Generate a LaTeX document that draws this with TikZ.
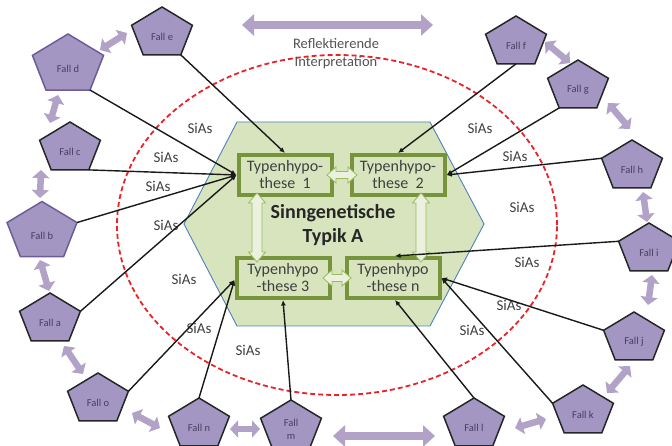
\documentclass[tikz,border=0pt]{standalone}
\usepackage{fontspec}
\setmainfont{Carlito}
\usetikzlibrary{arrows.meta,calc}
\definecolor{pentfill}{HTML}{A396C2}
\definecolor{pentline}{HTML}{262626}
\definecolor{pentpurple}{HTML}{6E5C98}
\definecolor{penttext}{HTML}{4A3D63}
\definecolor{lilac}{HTML}{B3A2C7}
\definecolor{hexfill}{HTML}{D7E4BD}
\definecolor{hexline}{HTML}{4F81BD}
\definecolor{boxline}{HTML}{77933C}
\definecolor{boxfill}{HTML}{D7E4BD}
\definecolor{garrfill}{HTML}{EBF1DE}
\definecolor{garrline}{HTML}{9BBB59}
\definecolor{redline}{HTML}{E8232A}
\definecolor{graytext}{HTML}{404040}
\tikzset{
  pentshape/.style={fill=pentfill, line width=1.5pt, line join=miter},
  falltext/.style={text=penttext, font=\fontsize{10.5}{13}\selectfont, align=center, inner sep=0pt},
  pics/fall/.style n args={3}{code={
    \draw[pentshape, draw=#3] (0,{-26.5*#2}) coordinate (-t)
      -- ({30.4*#2},{-8.2*#2}) coordinate (-r)
      -- ({18.8*#2},{21.4*#2}) coordinate (-br)
      -- ({-18.8*#2},{21.4*#2}) coordinate (-bl)
      -- ({-30.4*#2},{-8.2*#2}) coordinate (-l) -- cycle;
    \coordinate (-b) at (0,{21.4*#2});
    \node[falltext] (-c) at (0,{3*#2}) {#1};
  }},
  hexstyle/.style={draw=hexline, line width=0.9pt, fill=hexfill},
  hypbox/.style={draw=boxline, line width=4pt, fill=boxfill, minimum width=93pt,
    minimum height=40pt, inner sep=0pt, outer sep=2pt, align=center,
    font=\fontsize{16}{17}\selectfont, text=graytext},
  garrow/.style={draw=garrline, line width=0.8pt, fill=garrfill, line join=miter},
  lilacarr/.style={draw=lilac, line width=6.5pt,
    arrows={Triangle[length=8pt,width=17pt]-Triangle[length=8pt,width=17pt]}},
  biglilac/.style={draw=lilac, line width=8.5pt,
    arrows={Triangle[length=12pt,width=21pt]-Triangle[length=12pt,width=21pt]}},
  sias/.style={text=graytext, font=\fontsize{15}{17}\selectfont, inner sep=0pt},
  reflabel/.style={text=graytext!90, font=\fontsize{14.5}{18}\selectfont, align=center, inner sep=0pt},
  titlelabel/.style={text=black!85, font=\fontsize{20}{24}\selectfont\bfseries, align=center, inner sep=0pt},
  conn/.style={draw=black!90, line width=1.4pt, arrows={-Latex[length=5.5pt,width=5pt]}},
  redell/.style={draw=redline, line width=1.8pt, dash pattern=on 5pt off 3pt}
}
\begin{document}
\begin{tikzpicture}[x=1pt,y=-1pt]
\useasboundingbox (0,0) rectangle (672,446);
% central hexagon
\draw[hexstyle] (237,122) -- (430,122) -- (484,224) -- (430,326) -- (237,326) -- (184,224) -- cycle;
% red dashed ellipse
\draw[redell] (337,225) ellipse [x radius=220pt, y radius=170pt];
% labels
\node[reflabel] (refl) at (336,54) {Reflektierende\\Interpretation};
% hypothesis boxes
\node[hypbox] (b1) at (285,175) {Typenhypo-\\these~~1};
\node[hypbox] (b2) at (398,175) {Typenhypo-\\these~~2};
\node[hypbox] (b3) at (283,278) {Typenhypo\\-these 3};
\node[hypbox] (bn) at (393,278) {Typenhypo\\-these n};
% green double arrows
\draw[garrow] (327,175) -- (336,167) -- (336,171.5) -- (348,171.5) -- (348,167) -- (357,175)
  -- (348,183) -- (348,178.5) -- (336,178.5) -- (336,183) -- cycle;
\draw[garrow] (323,278) -- (332,270) -- (332,274.5) -- (342,274.5) -- (342,270) -- (351,278)
  -- (342,286) -- (342,281.5) -- (332,281.5) -- (332,286) -- cycle;
\draw[garrow] (257,193) -- (265.5,203) -- (262,203) -- (262,252) -- (265.5,252) -- (257,262)
  -- (248.5,252) -- (252,252) -- (252,203) -- (248.5,203) -- cycle;
\draw[garrow] (421,193) -- (429.5,203) -- (426,203) -- (426,252) -- (429.5,252) -- (421,262)
  -- (412.5,252) -- (416,252) -- (416,203) -- (412.5,203) -- cycle;
\node[titlelabel] (title) at (333,225) {Sinngenetische\\Typik A};
% cases
\pic (e) at (162,33.5) {fall={Fall e}{1}{pentline}};
\pic (d) at (68,65) {fall={Fall d}{1.17}{pentpurple}};
\pic (c) at (70,148.5) {fall={Fall c}{1}{pentline}};
\pic (b) at (42,232) {fall={Fall b}{1.15}{pentpurple}};
\pic (a) at (50,319.5) {fall={Fall a}{1}{pentline}};
\pic (o) at (98,399.5) {fall={Fall o}{1}{pentline}};
\pic (n) at (199,424.5) {fall={Fall n}{1}{pentline}};
\pic (m) at (291,426.5) {fall={Fall\\m}{1}{pentline}};
\pic (l) at (474,424.5) {fall={Fall l}{1}{pentline}};
\pic (k) at (583,411.5) {fall={Fall k}{1}{pentline}};
\pic (j) at (634,338.5) {fall={Fall j}{1}{pentline}};
\pic (i) at (649,249.5) {fall={Fall i}{1}{pentline}};
\pic (h) at (632,166.5) {fall={Fall h}{1}{pentline}};
\pic (g) at (578,86.5) {fall={Fall g}{1}{pentline}};
\pic (f) at (516,42.5) {fall={Fall f}{1}{pentline}};
% lilac double arrows between cases
\draw[biglilac] (242,25) -- (433,25);
\draw[lilacarr] (100,50) -- (127,33);
\draw[lilacarr] (58,95) -- (50,123);
\draw[lilacarr] (41,170) -- (40,198);
\draw[lilacarr] (40,260) -- (49,291);
\draw[lilacarr] (64,346) -- (83,374);
\draw[lilacarr] (132,413) -- (160,428);
\draw[lilacarr] (230,429) -- (260,429);
\draw[biglilac] (333,436) -- (435,436);
\draw[lilacarr] (515,428) -- (546,419);
\draw[lilacarr] (607,393) -- (630,366);
\draw[lilacarr] (648,305) -- (652,275);
\draw[lilacarr] (643,192) -- (647,222);
\draw[lilacarr] (608,103) -- (630,129);
\draw[lilacarr] (545,42) -- (570,63);
% SiAs labels
\node[sias] (s1) at (200,128) {SiAs};
\node[sias] (s2) at (166,157) {SiAs};
\node[sias] (s3) at (158,186) {SiAs};
\node[sias] (s4) at (166,225) {SiAs};
\node[sias] (s5) at (184,279) {SiAs};
\node[sias] (s6) at (199,328) {SiAs};
\node[sias] (s7) at (248,350) {SiAs};
\node[sias] (s8) at (472,330) {SiAs};
\node[sias] (s9) at (509,305) {SiAs};
\node[sias] (s10) at (527,262) {SiAs};
\node[sias] (s11) at (522,207) {SiAs};
\node[sias] (s12) at (515,156) {SiAs};
\node[sias] (s13) at (480,128) {SiAs};
% connectors
\draw[conn] (e-br) -- (b1.north);
\draw[conn] (d-br) -- (b1.west);
\draw[conn] (c-br) -- (b1.west);
\draw[conn] (b-r) -- (b1.west);
\draw[conn] (a-r) -- (b1.west);
\draw[conn] (o-r) -- ($(b3.west)+(0,2)$);
\draw[conn] (n-t) -- ($(b3.west)+(0,2)$);
\draw[conn] (m-t) -- (b3.south);
\draw[conn] (l-t) -- ($(bn.south)+(2,0)$);
\draw[conn] (k-l) -- (bn.east);
\draw[conn] (j-l) -- (bn.east);
\draw[conn] (i-l) -- ($(bn.north)+(2,0)$);
\draw[conn] (h-l) -- (b2.east);
\draw[conn] (g-bl) -- (b2.east);
\draw[conn] (f-b) -- (b2.north);
\end{tikzpicture}
\end{document}
